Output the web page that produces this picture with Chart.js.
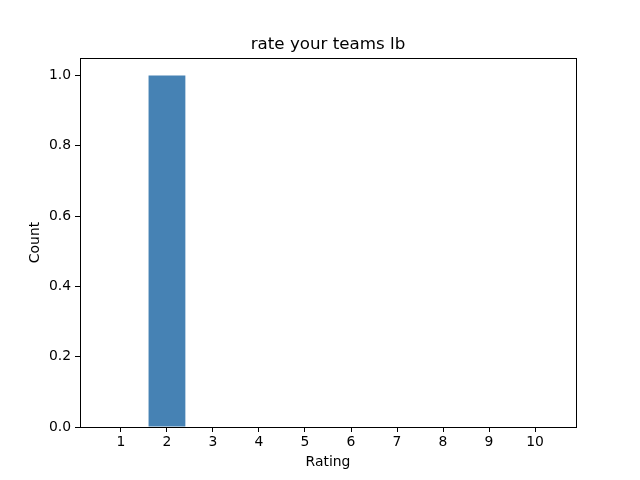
<!DOCTYPE html>
<html>
<head>
<meta charset="utf-8">
<script src="https://cdn.jsdelivr.net/npm/chart.js@4"></script>
<style>
html,body{margin:0;padding:0;background:#fff;}
#wrap{width:640px;height:480px;position:relative;}
</style>
</head>
<body>
<div id="wrap"><canvas id="c" width="640" height="480"></canvas></div>
<script>
const ratings = [1, 2, 3, 4, 5, 6, 7, 8, 9, 10];
const counts = [0, 1, 0, 0, 0, 0, 0, 0, 0, 0];
const yTicks = [0.0, 0.2, 0.4, 0.6, 0.8, 1.0];
const chartTitle = 'rate your teams lb';
const xLabel = 'Rating';
const yLabel = 'Count';

const FONT = "'DejaVu Sans', sans-serif";

const frame = {
  id: 'frame',
  afterDatasetsDraw(chart) {
    const a = chart.chartArea, ctx = chart.ctx;
    ctx.save();
    ctx.strokeStyle = '#000';
    ctx.lineWidth = 1;
    ctx.strokeRect(Math.round(a.left) + 0.5, Math.round(a.top) + 0.5, Math.round(a.right - a.left), Math.round(a.bottom - a.top));
    ctx.fillStyle = '#000';
    ctx.font = '16.7px ' + FONT;
    ctx.textAlign = 'center';
    ctx.textBaseline = 'alphabetic';
    ctx.fillText(chartTitle, (a.left + a.right) / 2, a.top - 9);
    ctx.restore();
  }
};

new Chart(document.getElementById('c'), {
  type: 'bar',
  data: {
    datasets: [{
      data: ratings.map((r, i) => ({x: r, y: counts[i]})),
      backgroundColor: '#4682B4',
      borderColor: '#4682B4',
      borderWidth: 0,
      inflateAmount: 0,
      barPercentage: 0.8,
      categoryPercentage: 1.0
    }]
  },
  options: {
    responsive: false,
    animation: false,
    devicePixelRatio: 1,
    layout: {padding: {left: 0, right: 64, top: 58, bottom: 0}},
    plugins: {
      legend: {display: false},
      tooltip: {enabled: false},
      title: {display: false}
    },
    scales: {
      x: {
        type: 'linear',
        offset: false,
        min: 0.11,
        max: 10.89,
        afterBuildTicks: s => { s.ticks = ratings.map(v => ({value: v})); },
        afterFit: s => { s.height = 53; },
        grid: {offset: false, drawOnChartArea: false, drawTicks: true, tickLength: 5, tickColor: '#000'},
        border: {display: false},
        ticks: {color: '#000', font: {family: FONT, size: 13.9}, padding: 2, maxRotation: 0, autoSkip: false,
          callback: v => String(v)},
        title: {display: true, text: xLabel, color: '#000', font: {family: FONT, size: 13.9}, padding: {top: 2, bottom: 9}}
      },
      y: {
        type: 'linear',
        min: 0,
        max: 1.05,
        afterBuildTicks: s => { s.ticks = yTicks.map(v => ({value: v})); },
        afterFit: s => { s.width = 80; },
        grid: {drawOnChartArea: false, drawTicks: true, tickLength: 5, tickColor: '#000'},
        border: {display: false},
        ticks: {color: '#000', font: {family: FONT, size: 13.9}, padding: 4,
          callback: v => Number(v).toFixed(1)},
        title: {display: true, text: yLabel, color: '#000', font: {family: FONT, size: 13.9}, padding: {top: 27, bottom: 0}}
      }
    }
  },
  plugins: [frame]
});
</script>
</body>
</html>
